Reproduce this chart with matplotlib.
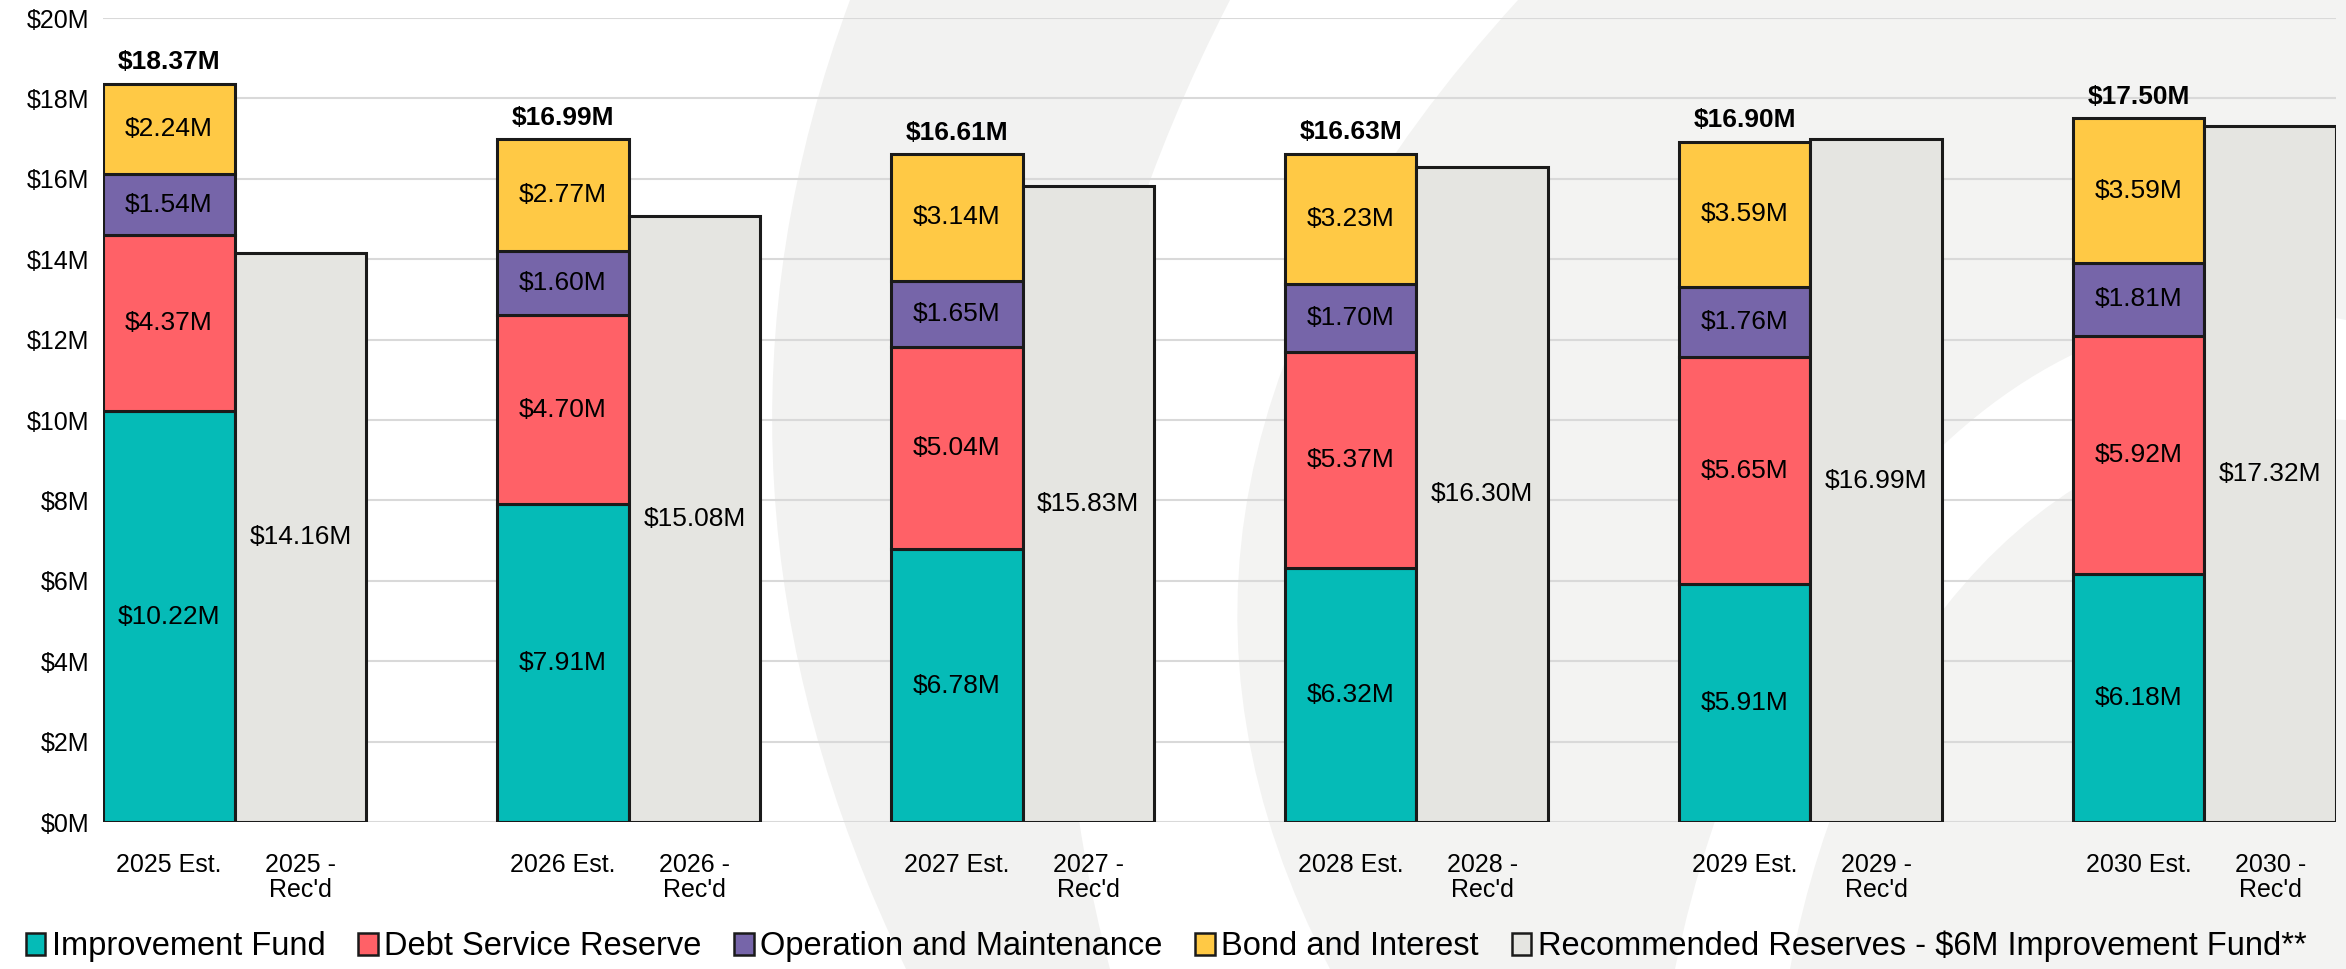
import matplotlib.pyplot as plt
from matplotlib.path import Path
from matplotlib.patches import PathPatch, Patch

plt.rcParams['font.family'] = ['Liberation Sans', 'DejaVu Sans']

# data (in $M)
years = ["2025", "2026", "2027", "2028", "2029", "2030"]
improvement = [10.22, 7.91, 6.78, 6.32, 5.91, 6.18]
debt_service = [4.37, 4.70, 5.04, 5.37, 5.65, 5.92]
operation = [1.54, 1.60, 1.65, 1.70, 1.76, 1.81]
bond = [2.24, 2.77, 3.14, 3.23, 3.59, 3.59]
totals = ["$18.37M", "$16.99M", "$16.61M", "$16.63M", "$16.90M", "$17.50M"]
recommended = [14.16, 15.08, 15.83, 16.30, 16.99, 17.32]

series_names = ["Improvement Fund", "Debt Service Reserve", "Operation and Maintenance",
                "Bond and Interest", "Recommended Reserves - $6M Improvement Fund**"]
colors = ["#05bbb7", "#ff6167", "#7665a9", "#ffc945", "#e5e5e1"]

W, H = 2346, 969
fig = plt.figure(figsize=(W / 100, H / 100), dpi=100)

# watermark in the background (pixel coords -> figure coords)
def px(x, y):
    return (x / W, 1 - y / H)

def shape(points, codes, color):
    p = PathPatch(Path([px(*pt) for pt in points], codes), transform=fig.transFigure,
                  facecolor=color, edgecolor='none', zorder=-5)
    fig.patches.append(p)

M, C3, C4, L, CL = Path.MOVETO, Path.CURVE3, Path.CURVE4, Path.LINETO, Path.CLOSEPOLY
shape([(850, 0), (670, 484), (906, 969), (1110, 969), (980, 484), (1230, 0), (850, 0)],
      [M, C3, C3, L, C3, C3, CL], "#f2f2f1")
shape([(1518, 0), (1076, 484), (1330, 969), (2346, 969), (2346, 0), (1518, 0)],
      [M, C3, C3, L, L, CL], "#f3f3f2")
shape([(2346, 320), (2000, 250), (1750, 600), (1675, 969), (1790, 969),
       (1850, 650), (2050, 400), (2346, 420), (2346, 320)],
      [M, C4, C4, C4, L, C4, C4, C4, CL], "white")

ax = fig.add_axes([103 / W, 1 - 822 / H, 2233 / W, 804 / H])
ax.set_facecolor('none')
ax.set_zorder(1)

w = 0.334
xs = list(range(len(years)))
x_est = [x - w / 2 for x in xs]
x_rec = [x + w / 2 for x in xs]

edge = dict(edgecolor="#1a1a1a", linewidth=2.2, zorder=3)
bottom = [0] * len(years)
for vals, col in zip([improvement, debt_service, operation, bond], colors[:4]):
    bars = ax.bar(x_est, vals, w, bottom=bottom, color=col, **edge)
    for b, v, b0 in zip(bars, vals, bottom):
        ax.text(b.get_x() + b.get_width() / 2, b0 + v / 2, f"${v:.2f}M",
                ha='center', va='center', fontsize=19, zorder=4)
    bottom = [b0 + v for b0, v in zip(bottom, vals)]

for x, top, t in zip(x_est, bottom, totals):
    ax.annotate(t, (x, top), xytext=(0, 7), textcoords='offset points',
                ha='center', va='bottom', fontsize=19, fontweight='bold')

rec_bars = ax.bar(x_rec, recommended, w, color=colors[4], **edge)
for b, v in zip(rec_bars, recommended):
    ax.text(b.get_x() + b.get_width() / 2, v / 2, f"${v:.2f}M",
            ha='center', va='center', fontsize=19, zorder=4)

ax.set_xlim(-w, len(years) - 1 + w)
ax.set_ylim(0, 20)
ax.set_yticks(range(0, 21, 2))
ax.set_yticklabels([f"${v}M" for v in range(0, 21, 2)], fontsize=18)

ticks = []
labels = []
for y, a, b in zip(years, x_est, x_rec):
    ticks += [a, b]
    labels += [f"{y} Est.", f"{y} -\nRec'd"]
ax.set_xticks(ticks)
ax.set_xticklabels(labels, fontsize=18, linespacing=1.1)
ax.tick_params(length=0)
ax.tick_params(axis='y', pad=10)
ax.tick_params(axis='x', pad=22)

ax.grid(axis='y', color="#d9d9d9", linewidth=1.5, zorder=0)
ax.set_axisbelow(True)
for s in ax.spines.values():
    s.set_visible(False)

handles = [Patch(facecolor=c, edgecolor="#1a1a1a", linewidth=1.8) for c in colors]
fig.legend(handles, series_names, loc='center', bbox_to_anchor=(0.497, 0.023), ncol=5,
           frameon=False, fontsize=23.5, handlelength=0.6, handleheight=0.65,
           handletextpad=0.2, columnspacing=1.0)

plt.savefig("out.png", dpi=100)
